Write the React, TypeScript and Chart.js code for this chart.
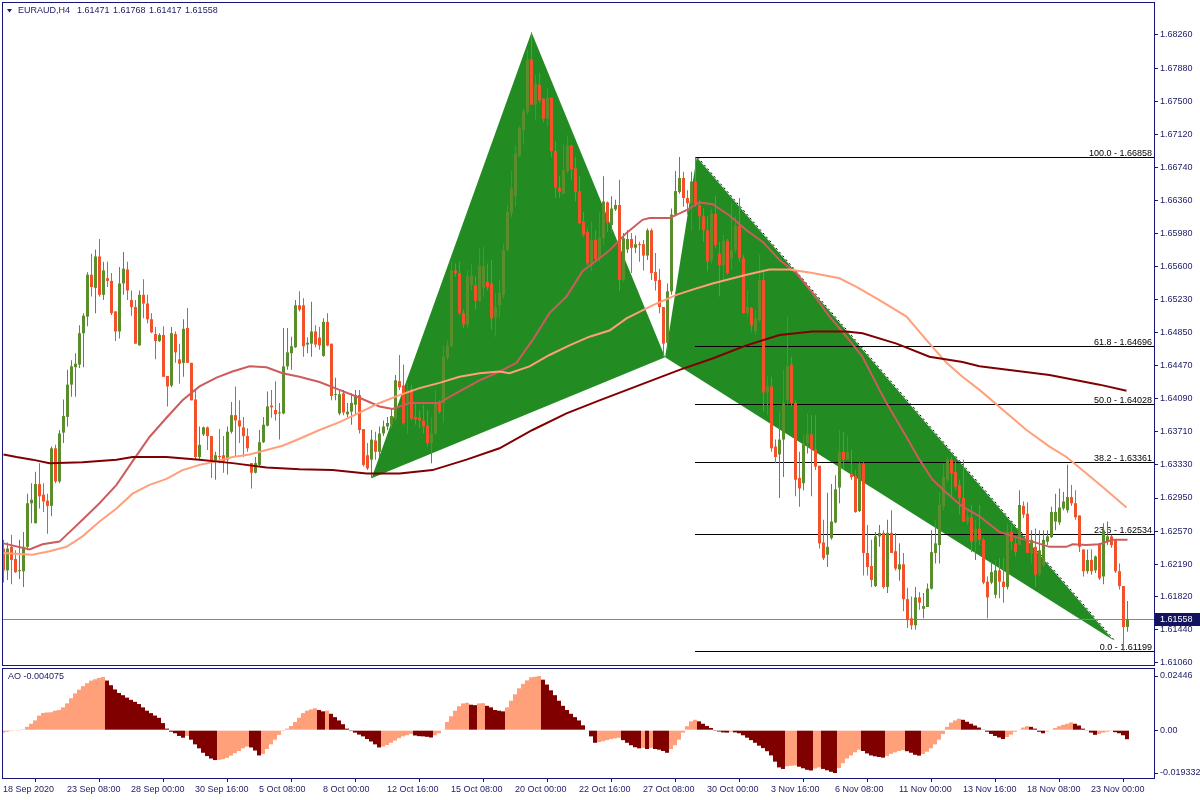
import { useEffect, useRef } from 'react';
import { Chart, registerables } from 'chart.js';

Chart.register(...registerables);

// ---------------- data ----------------
const symbol = 'EURAUD,H4';

const timeLabels = ['18 Sep 2020', '23 Sep 08:00', '28 Sep 00:00', '30 Sep 16:00', '5 Oct 08:00', '8 Oct 00:00', '12 Oct 16:00', '15 Oct 08:00', '20 Oct 00:00', '22 Oct 16:00', '27 Oct 08:00', '30 Oct 00:00', '3 Nov 16:00', '6 Nov 08:00', '11 Nov 00:00', '13 Nov 16:00', '18 Nov 08:00', '23 Nov 00:00'];
const timeLabelIdx = [0, 16, 32, 48, 64, 80, 96, 112, 128, 144, 160, 176, 192, 208, 224, 240, 256, 272];

const priceTicks = [1.6826, 1.6788, 1.675, 1.6712, 1.6674, 1.6636, 1.6598, 1.656, 1.6523, 1.6485, 1.6447, 1.6409, 1.6371, 1.6333, 1.6295, 1.6257, 1.6219, 1.6182, 1.6144, 1.6106];

const opens = [
  1.6237,1.6212,1.6239,1.6225,1.6211,1.6211,1.6239,1.6289,1.6266,1.6311,
  1.6299,1.6292,1.6286,1.6352,1.6314,1.6370,1.6388,1.6425,1.6445,1.6448,
  1.6484,1.6503,1.6551,1.6536,1.6572,1.6528,1.6547,1.6544,1.6509,1.6486,
  1.6541,1.6557,1.6522,1.6514,1.6470,1.6528,1.6518,1.6500,1.6483,1.6475,
  1.6482,1.6435,1.6424,1.6483,1.6454,1.6450,1.6490,1.6450,1.6408,1.6342,
  1.6368,1.6376,1.6366,1.6337,1.6343,1.6344,1.6339,1.6371,1.6390,1.6384,
  1.6376,1.6366,1.6335,1.6324,1.6333,1.6359,1.6378,1.6401,1.6396,1.6392,
  1.6392,1.6446,1.6461,1.6468,1.6516,1.6516,1.6471,1.6472,1.6486,1.6479,
  1.6458,1.6497,1.6472,1.6413,1.6392,1.6415,1.6391,1.6394,1.6402,1.6413,
  1.6374,1.6344,1.6339,1.6361,1.6348,1.6369,1.6377,1.6379,1.6386,1.6429,
  1.6424,1.6404,1.6420,1.6388,1.6387,1.6384,1.6378,1.6358,1.6369,1.6404,
  1.6404,1.6456,1.6469,1.6556,1.6553,1.6507,1.6494,1.6539,1.6539,1.6521,
  1.6536,1.6543,1.6541,1.6502,1.6516,1.6528,1.6579,1.6622,1.6641,1.6687,
  1.6717,1.6738,1.6798,1.6746,1.6769,1.6753,1.6730,1.6754,1.6693,1.6651,
  1.6644,1.6670,1.6699,1.6673,1.6647,1.6612,1.6600,1.6564,1.6591,1.6570,
  1.6593,1.6634,1.6608,1.6626,1.6631,1.6545,1.6580,1.6592,1.6582,1.6586,
  1.6586,1.6573,1.6602,1.6554,1.6545,1.6514,1.6473,1.6532,1.6620,1.6646,
  1.6662,1.6639,1.6633,1.6658,1.6631,1.6618,1.6602,1.6568,1.6621,1.6575,
  1.6562,1.6590,1.6570,1.6579,1.6607,1.6570,1.6507,1.6513,1.6486,1.6499,
  1.6545,1.6416,1.6423,1.6354,1.6345,1.6362,1.6407,1.6448,1.6404,1.6318,
  1.6312,1.6358,1.6368,1.6351,1.6332,1.6244,1.6230,1.6249,1.6267,1.6307,
  1.6348,1.6339,1.6323,1.6320,1.6280,1.6334,1.6232,1.6217,1.6194,1.6251,
  1.6255,1.6193,1.6255,1.6234,1.6213,1.6219,1.6179,1.6157,1.6149,1.6181,
  1.6168,1.6170,1.6191,1.6232,1.6241,1.6285,1.6316,1.6339,1.6325,1.6310,
  1.6295,1.6268,1.6273,1.6245,1.6260,1.6247,1.6199,1.6198,1.6184,1.6212,
  1.6199,1.6193,1.6256,1.6243,1.6241,1.6286,1.6277,1.6231,1.6239,1.6208,
  1.6218,1.6245,1.6250,1.6268,1.6267,1.6283,1.6281,1.6296,1.6289,1.6275,
  1.6236,1.6211,1.6224,1.6212,1.6243,1.6205,1.6245,1.6251,1.6247,1.6211,
  1.6194,1.61471,
];

const highs = [
  1.6247,1.6244,1.6253,1.6235,1.6247,1.6256,1.6300,1.6312,1.6325,1.6335,
  1.6312,1.6300,1.6354,1.6356,1.6373,1.6408,1.6442,1.6453,1.6461,1.6493,
  1.6507,1.6554,1.6575,1.6580,1.6592,1.6566,1.6566,1.6553,1.6509,1.6560,
  1.6577,1.6566,1.6533,1.6522,1.6533,1.6546,1.6528,1.6507,1.6491,1.6484,
  1.6492,1.6435,1.6491,1.6486,1.6472,1.6500,1.6513,1.6450,1.6419,1.6377,
  1.6377,1.6377,1.6366,1.6348,1.6374,1.6366,1.6377,1.6405,1.6423,1.6407,
  1.6388,1.6375,1.6335,1.6342,1.6373,1.6388,1.6417,1.6419,1.6429,1.6404,
  1.6490,1.6490,1.6480,1.6522,1.6532,1.6524,1.6479,1.6520,1.6493,1.6491,
  1.6501,1.6507,1.6472,1.6433,1.6418,1.6419,1.6404,1.6415,1.6419,1.6419,
  1.6374,1.6358,1.6373,1.6371,1.6377,1.6384,1.6388,1.6398,1.6436,1.6459,
  1.6448,1.6427,1.6425,1.6404,1.6396,1.6402,1.6396,1.6388,1.6419,1.6407,
  1.6469,1.6476,1.6566,1.6564,1.6566,1.6511,1.6556,1.6564,1.6549,1.6581,
  1.6583,1.6564,1.6568,1.6530,1.6545,1.6587,1.6631,1.6670,1.6699,1.6721,
  1.6742,1.6809,1.6829,1.6780,1.6782,1.6753,1.6765,1.6754,1.6704,1.6664,
  1.6701,1.6711,1.6700,1.6686,1.6664,1.6623,1.6604,1.6612,1.6602,1.6622,
  1.6664,1.6635,1.6641,1.6637,1.6660,1.6599,1.6602,1.6599,1.6596,1.6589,
  1.6591,1.6604,1.6604,1.6576,1.6558,1.6514,1.6541,1.6627,1.6670,1.6686,
  1.6669,1.6648,1.6669,1.66858,1.6637,1.6627,1.6618,1.6626,1.6641,1.6589,
  1.6597,1.6592,1.6633,1.6618,1.6639,1.6574,1.6533,1.6514,1.6511,1.6574,
  1.6557,1.6434,1.6434,1.6362,1.6394,1.6442,1.6503,1.6457,1.6407,1.6348,
  1.6367,1.6392,1.6390,1.6390,1.6332,1.6270,1.6301,1.6311,1.6321,1.6373,
  1.6371,1.6366,1.6350,1.6327,1.6336,1.6336,1.6264,1.6247,1.6256,1.6264,
  1.6258,1.6270,1.6281,1.6255,1.6243,1.6232,1.6192,1.6182,1.6193,1.6187,
  1.6186,1.6197,1.6258,1.6270,1.6302,1.6335,1.6342,1.6342,1.6337,1.6316,
  1.6339,1.6281,1.6287,1.6270,1.6287,1.6249,1.6205,1.6222,1.6224,1.6226,
  1.6226,1.6266,1.6264,1.6251,1.6304,1.6291,1.6290,1.6258,1.6260,1.6258,
  1.6258,1.6258,1.6285,1.6300,1.6306,1.6302,1.6333,1.6310,1.6304,1.6275,
  1.6236,1.6236,1.6236,1.6229,1.6243,1.6266,1.6268,1.6253,1.6247,1.6220,
  1.6194,1.61768,
];

const lows = [
  1.6198,1.6201,1.6196,1.6209,1.6202,1.6193,1.6235,1.6266,1.6266,1.6283,
  1.6279,1.6254,1.6274,1.6312,1.6312,1.6358,1.6377,1.6411,1.6411,1.6444,
  1.6445,1.6492,1.6526,1.6507,1.6526,1.6522,1.6537,1.6505,1.6475,1.6478,
  1.6528,1.6522,1.6504,1.6472,1.6470,1.6501,1.6495,1.6484,1.6454,1.6474,
  1.6434,1.6400,1.6422,1.6450,1.6426,1.6434,1.6450,1.6407,1.6339,1.6339,
  1.6366,1.6350,1.6318,1.6316,1.6335,1.6324,1.6322,1.6369,1.6342,1.6358,
  1.6342,1.6348,1.6306,1.6323,1.6331,1.6358,1.6377,1.6387,1.6384,1.6362,
  1.6391,1.6442,1.6442,1.6467,1.6509,1.6457,1.6461,1.6457,1.6468,1.6465,
  1.6457,1.6469,1.6407,1.6407,1.6390,1.6390,1.6388,1.6379,1.6390,1.6369,
  1.6331,1.6327,1.6318,1.6339,1.6342,1.6366,1.6373,1.6375,1.6384,1.6419,
  1.6379,1.6369,1.6384,1.6379,1.6375,1.6369,1.6354,1.6335,1.6367,1.6392,
  1.6381,1.6453,1.6467,1.6549,1.6505,1.6490,1.6490,1.6533,1.6511,1.6520,
  1.6526,1.6533,1.6488,1.6480,1.6501,1.6524,1.6579,1.6617,1.6629,1.6686,
  1.6700,1.6735,1.6746,1.6728,1.6748,1.6726,1.6721,1.6686,1.6639,1.6639,
  1.6644,1.6667,1.6660,1.6635,1.6609,1.6595,1.6562,1.6555,1.6566,1.6566,
  1.6585,1.6600,1.6599,1.6624,1.6532,1.6543,1.6576,1.6553,1.6576,1.6566,
  1.6556,1.6568,1.6545,1.6533,1.6507,1.6457,1.6465,1.6528,1.6618,1.6644,
  1.6629,1.6620,1.6602,1.6629,1.6602,1.6589,1.6555,1.6564,1.6582,1.6526,
  1.6545,1.6551,1.6557,1.6576,1.6566,1.6507,1.6503,1.6486,1.6482,1.6497,
  1.6394,1.6390,1.6348,1.6335,1.6295,1.6319,1.6402,1.6400,1.6297,1.6285,
  1.6304,1.6346,1.6297,1.6327,1.6237,1.6224,1.6216,1.6247,1.6266,1.6289,
  1.6327,1.6339,1.6316,1.6278,1.6279,1.6206,1.6206,1.6193,1.6193,1.6239,
  1.6191,1.6186,1.6232,1.6212,1.6200,1.6165,1.6146,1.6144,1.6144,1.6167,
  1.6157,1.6170,1.6190,1.6220,1.6220,1.6281,1.6313,1.6297,1.6304,1.6276,
  1.6267,1.6264,1.6233,1.6224,1.6241,1.6196,1.6157,1.6196,1.6180,1.6180,
  1.6175,1.6190,1.6235,1.6228,1.6241,1.6272,1.6232,1.6220,1.6193,1.6205,
  1.6216,1.6241,1.6249,1.6258,1.6264,1.6281,1.6278,1.6286,1.6270,1.6233,
  1.6205,1.6208,1.6207,1.6209,1.6201,1.6196,1.6241,1.6238,1.6209,1.6190,
  1.61199,1.61417,
];

const closes = [
  1.6212,1.6237,1.6224,1.6210,1.6212,1.6239,1.6289,1.6293,1.6311,1.6297,
  1.6291,1.6286,1.6352,1.6314,1.6369,1.6389,1.6425,1.6446,1.6449,1.6484,
  1.6504,1.6551,1.6537,1.6572,1.6528,1.6556,1.6544,1.6507,1.6486,1.6541,
  1.6558,1.6533,1.6514,1.6472,1.6528,1.6518,1.6500,1.6485,1.6475,1.6482,
  1.6434,1.6423,1.6484,1.6462,1.6449,1.6489,1.6450,1.6407,1.6342,1.6356,
  1.6376,1.6366,1.6337,1.6344,1.6342,1.6337,1.6371,1.6390,1.6384,1.6377,
  1.6366,1.6352,1.6324,1.6335,1.6359,1.6379,1.6400,1.6399,1.6391,1.6393,
  1.6446,1.6462,1.6469,1.6516,1.6511,1.6469,1.6473,1.6486,1.6471,1.6470,
  1.6497,1.6470,1.6412,1.6414,1.6414,1.6393,1.6394,1.6404,1.6413,1.6373,
  1.6333,1.6329,1.6362,1.6348,1.6369,1.6377,1.6381,1.6389,1.6430,1.6422,
  1.6381,1.6419,1.6386,1.6385,1.6384,1.6377,1.6358,1.6369,1.6404,1.6394,
  1.6457,1.6470,1.6556,1.6553,1.6507,1.6494,1.6549,1.6550,1.6521,1.6561,
  1.6561,1.6537,1.6501,1.6514,1.6530,1.6579,1.6623,1.6650,1.6690,1.6719,
  1.6739,1.6798,1.6746,1.6770,1.6751,1.6730,1.6754,1.6693,1.6651,1.6646,
  1.6671,1.6699,1.6672,1.6646,1.6610,1.6597,1.6564,1.6591,1.6569,1.6594,
  1.6635,1.6611,1.6627,1.6631,1.6545,1.6593,1.6592,1.6582,1.6586,1.6585,
  1.6573,1.6602,1.6553,1.6544,1.6514,1.6472,1.6532,1.6620,1.6647,1.6662,
  1.6639,1.6633,1.6658,1.6631,1.6618,1.6602,1.6566,1.6621,1.6585,1.6562,
  1.6590,1.6553,1.6579,1.6607,1.6570,1.6507,1.6514,1.6493,1.6501,1.6545,
  1.6416,1.6423,1.6352,1.6342,1.6362,1.6404,1.6446,1.6404,1.6316,1.6306,
  1.6358,1.6368,1.6351,1.6331,1.6243,1.6226,1.6239,1.6268,1.6305,1.6348,
  1.6339,1.6348,1.6319,1.6279,1.6334,1.6232,1.6216,1.6201,1.6251,1.6255,
  1.6193,1.6255,1.6232,1.6214,1.6219,1.6179,1.6155,1.6149,1.6181,1.6175,
  1.6171,1.6191,1.6233,1.6243,1.6287,1.6319,1.6339,1.6323,1.6308,1.6295,
  1.6268,1.6274,1.6245,1.6260,1.6247,1.6198,1.6181,1.6210,1.6212,1.6199,
  1.6193,1.6256,1.6245,1.6233,1.6287,1.6276,1.6232,1.6247,1.6207,1.6235,
  1.6247,1.6251,1.6279,1.6279,1.6284,1.6291,1.6296,1.6289,1.6273,1.6239,
  1.6211,1.6224,1.6211,1.6228,1.6203,1.6258,1.6251,1.6241,1.6211,1.6194,
  1.6147,1.61558,
];

// moving averages (bar index, price)
const maFastIdx = [0, 6.5, 9.75, 14, 19.75, 24, 28.25, 32.25, 36.5, 40.75, 44.75, 49, 53.25, 57.25, 61.5, 65.75, 69.75, 74, 79, 84, 89, 94, 97.25, 101.5, 109, 111.5, 119, 124, 128.25, 132.25, 136.5, 140.75, 144.75, 149, 151.5, 155.75, 159.75, 161.5, 166.5, 170.75, 174, 177.25, 181.5, 185.75, 189.75, 194, 198.25, 202.25, 206.5, 210.75, 214.75, 219, 220.75, 225.75, 229, 232.25, 235.75, 239.75, 244, 249, 254, 257.25, 261.5, 265.75, 267.25, 270.75, 274, 277.25, 281];
const maFastVal = [1.6243, 1.6236, 1.6242, 1.6245, 1.6270, 1.6289, 1.6310, 1.6337, 1.6365, 1.6387, 1.6407, 1.6423, 1.6433, 1.6440, 1.6446, 1.6445, 1.6438, 1.6434, 1.6428, 1.6419, 1.6410, 1.6400, 1.6397, 1.6404, 1.6404, 1.6411, 1.6430, 1.6440, 1.6450, 1.6476, 1.6507, 1.6526, 1.6555, 1.6570, 1.6579, 1.6599, 1.6614, 1.6616, 1.6616, 1.6625, 1.6634, 1.6632, 1.6619, 1.6602, 1.6589, 1.6568, 1.6553, 1.6530, 1.6503, 1.6480, 1.6457, 1.6419, 1.6404, 1.6365, 1.6339, 1.6316, 1.6301, 1.6285, 1.6274, 1.6256, 1.6249, 1.6245, 1.6239, 1.6239, 1.6242, 1.6241, 1.6242, 1.6247, 1.6247];

const maMidIdx = [0, 7.25, 11.5, 15.75, 19.75, 24, 28.25, 32.25, 36.5, 40.75, 44.75, 49, 53.25, 57.25, 61.5, 65.75, 69.75, 74, 79, 84, 89, 94, 99, 104, 109, 114, 119, 124, 126.5, 131.5, 136.5, 141.5, 146.5, 151.5, 155.75, 162.25, 168.25, 172.25, 177.25, 185.75, 191.5, 196.5, 202.25, 209, 213.25, 219, 225.75, 230.75, 235.75, 239.75, 244, 255.75, 261.5, 265.75, 270.75, 275.75, 280.75];
const maMidVal = [1.6232, 1.6230, 1.6234, 1.6239, 1.6251, 1.6268, 1.6283, 1.6300, 1.6310, 1.6317, 1.6327, 1.6333, 1.6337, 1.6342, 1.6345, 1.6350, 1.6355, 1.6363, 1.6373, 1.6382, 1.6393, 1.6404, 1.6413, 1.6421, 1.6427, 1.6434, 1.6438, 1.6440, 1.6438, 1.6446, 1.6459, 1.6470, 1.6480, 1.6487, 1.6501, 1.6516, 1.6528, 1.6534, 1.6541, 1.6551, 1.6557, 1.6557, 1.6553, 1.6547, 1.6537, 1.6522, 1.6503, 1.6476, 1.6450, 1.6434, 1.6419, 1.6373, 1.6354, 1.6342, 1.6323, 1.6304, 1.6284];

const maSlowIdx = [0, 3.25, 7.25, 11.5, 19.75, 28.25, 32.25, 40.75, 49, 57.25, 65.75, 74, 82.25, 90.75, 99, 107.25, 115.75, 124, 132.25, 140.75, 149, 169, 177.25, 185.75, 194, 202.25, 210.75, 214.75, 223.25, 231.5, 239.75, 244, 261.5, 274, 280.75];
const maSlowVal = [1.6345, 1.6342, 1.6339, 1.6335, 1.6336, 1.6339, 1.6342, 1.6342, 1.6339, 1.6335, 1.6330, 1.6328, 1.6327, 1.6323, 1.6323, 1.6327, 1.6339, 1.6352, 1.6373, 1.6392, 1.6407, 1.6442, 1.6455, 1.6470, 1.6482, 1.6486, 1.6486, 1.6484, 1.6472, 1.6457, 1.6451, 1.6446, 1.6436, 1.6425, 1.6418];

// harmonic pattern X, A, B, C, D
const patternIdx = [92, 132, 165.4, 173.3, 277.4];
const patternPrice = [1.63176, 1.6829, 1.64565, 1.66858, 1.61322];

// Fibonacci retracement
const fibLevels = [100, 61.8, 50, 38.2, 23.6, 0];
const fibPrices = [1.66858, 1.64696, 1.64028, 1.63361, 1.62534, 1.61199];
const fibStartIdx = 172.9;

// Awesome Oscillator
const aoValues = [
  -0.0011,-0.0007,-0.0004,-0.0003,-0.0001,0.0004,0.0015,0.0029,0.0044,0.0066,
  0.0078,0.0080,0.0081,0.0088,0.0091,0.0103,0.0121,0.0144,0.0166,0.0183,
  0.0199,0.0212,0.0224,0.0230,0.0236,0.0240,0.0224,0.0203,0.0184,0.0168,
  0.0158,0.0147,0.0137,0.0128,0.0118,0.0103,0.0088,0.0077,0.0066,0.0056,
  0.0032,0.0007,-0.0007,-0.0014,-0.0026,-0.0034,-0.0026,-0.0043,-0.0064,-0.0082,
  -0.0102,-0.0117,-0.0128,-0.0135,-0.0134,-0.0131,-0.0125,-0.0115,-0.0104,-0.0094,
  -0.0082,-0.0074,-0.0078,-0.0092,-0.0114,-0.0107,-0.0085,-0.0064,-0.0043,-0.0021,
  -0.0004,0.0007,0.0019,0.0037,0.0056,0.0077,0.0088,0.0094,0.0099,0.0091,
  0.0085,0.0088,0.0074,0.0059,0.0044,0.0027,0.0007,-0.0004,-0.0011,-0.0020,
  -0.0028,-0.0040,-0.0051,-0.0064,-0.0078,-0.0074,-0.0067,-0.0057,-0.0047,-0.0036,
  -0.0028,-0.0023,-0.0017,-0.0024,-0.0027,-0.0028,-0.0030,-0.0033,-0.0023,-0.0014,
  0.0003,0.0037,0.0063,0.0088,0.0108,0.0121,0.0124,0.0115,0.0113,0.0121,
  0.0122,0.0110,0.0103,0.0091,0.0088,0.0085,0.0103,0.0133,0.0162,0.0189,
  0.0209,0.0225,0.0239,0.0241,0.02446,0.0228,0.0206,0.0180,0.0158,0.0133,
  0.0110,0.0091,0.0074,0.0059,0.0044,0.0022,-0.0002,-0.0028,-0.0057,-0.0054,
  -0.0050,-0.0045,-0.0040,-0.0037,-0.0034,-0.0045,-0.0057,-0.0068,-0.0077,-0.0082,
  -0.0080,-0.0085,-0.0080,-0.0085,-0.0088,-0.0094,-0.0102,-0.0085,-0.0068,-0.0043,
  -0.0011,0.0018,0.0040,0.0047,0.0040,0.0029,0.0019,0.0010,-0.0001,-0.0006,
  -0.0010,-0.0011,-0.0007,-0.0010,-0.0014,-0.0023,-0.0034,-0.0045,-0.0057,-0.0070,
  -0.0081,-0.0095,-0.0114,-0.0142,-0.0168,-0.0175,-0.0163,-0.0161,-0.0159,-0.0165,
  -0.0172,-0.0179,-0.0182,-0.0173,-0.0168,-0.0175,-0.0181,-0.0188,-0.019332,-0.0171,
  -0.0149,-0.0128,-0.0114,-0.0100,-0.0088,-0.0094,-0.0105,-0.0114,-0.0118,-0.0121,
  -0.0124,-0.0117,-0.0107,-0.0100,-0.0094,-0.0090,-0.0095,-0.0102,-0.0111,-0.0115,
  -0.0107,-0.0097,-0.0082,-0.0064,-0.0043,-0.0017,0.0015,0.0034,0.0044,0.0052,
  0.0047,0.0038,0.0029,0.0021,0.0012,0.0003,-0.0007,-0.0017,-0.0026,-0.0033,
  -0.0040,-0.0031,-0.0020,-0.0007,0.0003,0.0012,0.0018,0.0015,0.0007,-0.0007,
  -0.0014,-0.0006,0.0003,0.0010,0.0018,0.0024,0.0029,0.0035,0.0029,0.0021,
  0.0007,-0.0003,-0.0011,-0.0021,-0.0017,-0.0011,-0.0007,-0.0004,-0.0009,-0.0014,
  -0.0023,-0.004075,
];
const aoTicks = [0.02446, 0, -0.019332];
const aoTickLabels = ['0.02446', '0.00', '-0.019332'];

// ---------------- styles ----------------
const FONT_FAMILY = '"Liberation Sans", Arial, sans-serif';
const FONT_SIZE = 9;
const FONT = `${FONT_SIZE}px ${FONT_FAMILY}`;
const FRAME = '#15157a';
const TEXT = '#1b1b66';
const BULL = '#5A8E2C';
const BEAR = '#F2512A';
const PATTERN = '#228B22';
const MA_FAST = '#CD5C5C';
const MA_MID = '#FFA07A';
const MA_SLOW = '#800000';
const AO_UP = '#FFA07A';
const AO_DOWN = '#800000';
const PRICE_LINE = '#7b8a9e';

Chart.defaults.font.family = FONT_FAMILY;
Chart.defaults.font.size = FONT_SIZE;

const frameRect = (ctx: CanvasRenderingContext2D, a: any) => {
  ctx.save();
  ctx.strokeStyle = FRAME;
  ctx.lineWidth = 1;
  ctx.strokeRect(Math.round(a.left) + 0.5, Math.round(a.top) + 0.5, Math.round(a.right - a.left), Math.round(a.bottom - a.top));
  ctx.restore();
};

const noPad = (s: any) => {
  s.paddingTop = 0;
  s.paddingBottom = 0;
  s.paddingLeft = 0;
  s.paddingRight = 0;
};

const mainBackground = {
  id: 'mainBackground',
  beforeDatasetsDraw(chart: any) {
    const { ctx, chartArea: a, scales } = chart;
    const px = (v: number) => scales.x.getPixelForValue(v);
    const py = (v: number) => scales.y.getPixelForValue(v);
    ctx.save();
    ctx.beginPath();
    ctx.rect(a.left, a.top, a.right - a.left, a.bottom - a.top);
    ctx.clip();
    // pattern triangles
    ctx.fillStyle = PATTERN;
    const tri = (ids: number[]) => {
      ctx.beginPath();
      ids.forEach((k, n) => {
        const X = px(patternIdx[k]);
        const Y = py(patternPrice[k]);
        if (n === 0) ctx.moveTo(X, Y); else ctx.lineTo(X, Y);
      });
      ctx.closePath();
      ctx.fill();
    };
    tri([0, 1, 2]);
    tri([2, 3, 4]);
    // dashed C-D line
    ctx.strokeStyle = '#000';
    ctx.lineWidth = 1;
    ctx.setLineDash([2, 3]);
    ctx.beginPath();
    ctx.moveTo(px(patternIdx[3]) + 1, py(patternPrice[3]));
    ctx.lineTo(px(patternIdx[4]) + 1, py(patternPrice[4]));
    ctx.stroke();
    ctx.setLineDash([]);
    // current price line
    const cy = Math.round(py(closes[closes.length - 1])) + 0.5;
    ctx.strokeStyle = PRICE_LINE;
    ctx.beginPath();
    ctx.moveTo(a.left, cy);
    ctx.lineTo(a.right, cy);
    ctx.stroke();
    // fibonacci
    const x0 = Math.round(px(fibStartIdx));
    ctx.font = FONT;
    ctx.textAlign = 'right';
    ctx.textBaseline = 'alphabetic';
    fibPrices.forEach((p, k) => {
      const Y = Math.round(py(p)) + 0.5;
      ctx.strokeStyle = '#000';
      ctx.beginPath();
      ctx.moveTo(x0, Y);
      ctx.lineTo(a.right, Y);
      ctx.stroke();
      ctx.fillStyle = '#000';
      ctx.fillText(`${fibLevels[k].toFixed(1)} - ${p.toFixed(5)}`, a.right - 2, Y - 2);
    });
    ctx.restore();
  },
  afterDraw(chart: any) {
    const { ctx, chartArea: a, scales } = chart;
    frameRect(ctx, a);
    ctx.save();
    // header
    ctx.fillStyle = TEXT;
    ctx.beginPath();
    ctx.moveTo(7, 9);
    ctx.lineTo(12, 9);
    ctx.lineTo(9.5, 12.5);
    ctx.closePath();
    ctx.fill();
    const n = closes.length - 1;
    ctx.font = FONT;
    ctx.textAlign = 'left';
    ctx.textBaseline = 'middle';
    (ctx as any).wordSpacing = '1px';
    ctx.fillText(`${symbol}  ${opens[n].toFixed(5)} ${highs[n].toFixed(5)} ${lows[n].toFixed(5)} ${closes[n].toFixed(5)}`, 18, 11);
    (ctx as any).wordSpacing = '0px';
    // price box
    const cy = Math.round(scales.y.getPixelForValue(closes[n]));
    ctx.fillStyle = '#14145e';
    ctx.fillRect(a.right + 1, cy - 6, 1200 - a.right - 1, 13);
    ctx.fillStyle = '#ffffff';
    ctx.fillText(closes[n].toFixed(5), a.right + 6, cy + 0.5);
    ctx.restore();
  },
};

const aoOverlay = {
  id: 'aoOverlay',
  afterDraw(chart: any) {
    const { ctx, chartArea: a } = chart;
    frameRect(ctx, a);
    ctx.save();
    ctx.fillStyle = TEXT;
    ctx.font = FONT;
    ctx.textAlign = 'left';
    ctx.textBaseline = 'middle';
    ctx.fillText(`AO ${aoValues[aoValues.length - 1].toFixed(6)}`, 8, 11);
    ctx.restore();
  },
};

function buildMain(canvas: HTMLCanvasElement) {
  const idx = opens.map((_, i) => i);
  const colors = idx.map((i) => (closes[i] >= opens[i] ? BULL : BEAR));
  const wicks = idx.map((i) => ({ x: i, y: [Math.min(lows[i], opens[i], closes[i]), Math.max(highs[i], opens[i], closes[i])] }));
  const bodies = idx.map((i) => ({ x: i, y: [opens[i], closes[i]] }));
  const line = (xs: number[], ys: number[], color: string) => ({
    type: 'line' as const,
    data: xs.map((x, k) => ({ x, y: ys[k] })),
    borderColor: color,
    borderWidth: 2,
    pointRadius: 0,
    tension: 0,
    fill: false,
    order: 0,
  });
  return new Chart(canvas, {
    type: 'bar',
    data: {
      datasets: [
        { type: 'bar', data: wicks as any, backgroundColor: colors, barThickness: 1, grouped: false, order: 3, borderWidth: 0, inflateAmount: 0 } as any,
        { type: 'bar', data: bodies as any, backgroundColor: colors, barThickness: 3, grouped: false, order: 2, borderWidth: 0, minBarLength: 1, inflateAmount: 0 } as any,
        line(maSlowIdx, maSlowVal, MA_SLOW),
        line(maMidIdx, maMidVal, MA_MID),
        line(maFastIdx, maFastVal, MA_FAST),
      ],
    },
    options: {
      responsive: false,
      animation: false,
      devicePixelRatio: 1,
      events: [],
      layout: { padding: { left: 2, top: 2, right: 0, bottom: 1 } },
      plugins: { legend: { display: false }, tooltip: { enabled: false } },
      scales: {
        x: { type: 'linear', min: -0.375, max: 287.625, offset: false, display: false },
        y: {
          type: 'linear',
          position: 'right',
          min: 1.61035,
          max: 1.68638,
          afterBuildTicks: (s: any) => { s.ticks = priceTicks.map((v) => ({ value: v })); },
          afterFit: (s: any) => { s.width = 46; noPad(s); },
          ticks: { color: TEXT, padding: 2, font: { size: FONT_SIZE }, callback: (v: any) => Number(v).toFixed(5) },
          grid: { drawOnChartArea: false, drawTicks: true, tickLength: 4, color: FRAME },
          border: { display: false },
        },
      },
    } as any,
    plugins: [mainBackground],
  });
}

function buildAO(canvas: HTMLCanvasElement) {
  const colors = aoValues.map((v, i) => (i === 0 || v > aoValues[i - 1] ? AO_UP : AO_DOWN));
  return new Chart(canvas, {
    type: 'bar',
    data: {
      datasets: [
        { data: aoValues.map((v, i) => ({ x: i, y: v })) as any, backgroundColor: colors, barThickness: 4, borderWidth: 0, inflateAmount: 0 } as any,
      ],
    },
    options: {
      responsive: false,
      animation: false,
      devicePixelRatio: 1,
      events: [],
      layout: { padding: { left: 2, top: 2, right: 0, bottom: 0 } },
      plugins: { legend: { display: false }, tooltip: { enabled: false } },
      scales: {
        x: {
          type: 'linear',
          min: -0.25,
          max: 287.75,
          offset: false,
          afterBuildTicks: (s: any) => { s.ticks = timeLabelIdx.map((v) => ({ value: v })); },
          afterFit: (s: any) => { s.height = 22; noPad(s); },
          ticks: { color: TEXT, padding: 2, autoSkip: false, maxRotation: 0, minRotation: 0, align: 'start', font: { size: FONT_SIZE }, callback: (_v: any, i: number) => timeLabels[i] },
          grid: { drawOnChartArea: false, drawTicks: true, tickLength: 4, color: FRAME },
          border: { display: false },
        },
        y: {
          type: 'linear',
          position: 'right',
          min: -0.021589,
          max: 0.028072,
          afterBuildTicks: (s: any) => { s.ticks = aoTicks.map((v) => ({ value: v })); },
          afterFit: (s: any) => { s.width = 46; noPad(s); },
          ticks: { color: TEXT, padding: 2, font: { size: FONT_SIZE }, callback: (_v: any, i: number) => aoTickLabels[i] },
          grid: { drawOnChartArea: false, drawTicks: true, tickLength: 4, color: FRAME },
          border: { display: false },
        },
      },
    } as any,
    plugins: [aoOverlay],
  });
}

export default function App() {
  const mainRef = useRef<HTMLCanvasElement>(null);
  const aoRef = useRef<HTMLCanvasElement>(null);
  useEffect(() => {
    document.body.style.margin = '0';
    document.body.style.background = '#ffffff';
    const main = buildMain(mainRef.current!);
    const ao = buildAO(aoRef.current!);
    return () => {
      main.destroy();
      ao.destroy();
    };
  }, []);
  return (
    <div style={{ position: 'relative', width: 1200, height: 800, background: '#ffffff', overflow: 'hidden' }}>
      <canvas ref={mainRef} width={1200} height={666} style={{ position: 'absolute', left: 0, top: 0, display: 'block' }} />
      <canvas ref={aoRef} width={1200} height={134} style={{ position: 'absolute', left: 0, top: 666, display: 'block' }} />
    </div>
  );
}
